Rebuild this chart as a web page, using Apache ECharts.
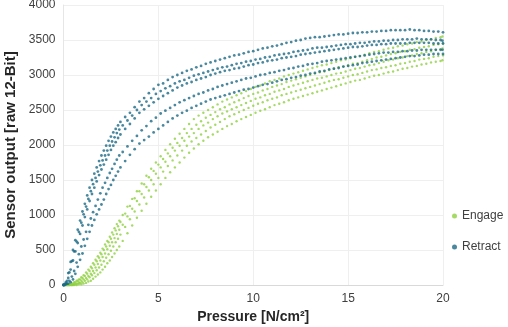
<!DOCTYPE html>
<html>
<head>
<meta charset="utf-8">
<script src="https://cdn.jsdelivr.net/npm/echarts@6/dist/echarts.min.js"></script>
<style>
  html, body { margin: 0; padding: 0; background: #fff; }
  #chart { width: 508px; height: 327px; }
</style>
</head>
<body>
<div id="chart"></div>
<script>
// pressure sampling positions (N/cm²), two offset sets
const pA = [0,0.125,0.25,0.375,0.5,0.625,0.75,0.875,1,1.125,1.25,1.375,1.5,1.625,1.75,1.875,2,2.125,2.25,2.375,2.5,2.625,2.75,2.875,
  3,3.25,3.5,3.75,4,4.25,4.5,4.75,5,5.25,5.5,5.75,6,6.25,6.5,6.75,7,7.25,7.5,7.75,8,8.25,8.5,8.75,9,9.25,9.5,9.75,
  10,10.25,10.5,10.75,11,11.25,11.5,11.75,12,12.25,12.5,12.75,13,13.25,13.5,13.75,14,14.25,14.5,14.75,15,15.25,15.5,15.75,
  16,16.25,16.5,16.75,17,17.25,17.5,17.75,18,18.25,18.5,18.75,19,19.25,19.5,19.75,20];
const pB = [0.06,0.19,0.31,0.44,0.56,0.69,0.81,0.94,1.06,1.19,1.31,1.44,1.56,1.69,1.81,1.94,2.06,2.19,2.31,2.44,2.56,2.69,2.81,2.94,
  3.12,3.37,3.62,3.87,4.12,4.37,4.62,4.87,5.12,5.37,5.62,5.87,6.12,6.37,6.62,6.87,7.12,7.37,7.62,7.87,8.12,8.37,8.62,8.87,
  9.12,9.37,9.62,9.87,10.12,10.37,10.62,10.87,11.12,11.37,11.62,11.87,12.12,12.37,12.62,12.87,13.12,13.37,13.62,13.87,
  14.12,14.37,14.62,14.87,15.12,15.37,15.62,15.87,16.12,16.37,16.62,16.87,17.12,17.37,17.62,17.87,18.12,18.37,18.62,18.87,
  19.12,19.37,19.62,19.87,19.97];

// Retract cycles (sensor output, raw 12-bit)
const retract1 = [0,40,170,330,500,640,790,920,1050,1160,1280,1390,1500,1590,1680,1770,1850,1920,1990,2060,2120,2180,2230,2280,
  2330,2400,2460,2540,2620,2670,2740,2800,2860,2880,2930,2970,3000,3030,3060,3080,3110,3130,3160,3180,3200,3220,3240,3260,3280,3290,
  3310,3330,3340,3360,3380,3390,3410,3420,3440,3460,3470,3490,3500,3520,3530,3540,3540,3550,3560,3570,3580,3580,3590,3600,
  3600,3610,3610,3620,3620,3630,3630,3640,3640,3640,3640,3650,3640,3640,3630,3630,3620,3620,3610];
const retract2 = [10,60,180,340,480,620,760,890,1010,1120,1230,1340,1440,1530,1620,1710,1780,1850,1920,1990,2050,2110,2170,2220,
  2280,2350,2420,2500,2570,2620,2670,2730,2770,2810,2840,2880,2910,2930,2960,2990,3010,3030,3050,3070,
  3090,3110,3120,3140,3160,3170,3190,3200,3220,3230,3250,3260,3280,3290,3300,3310,3330,3340,3350,3360,
  3380,3390,3390,3400,3410,3420,3430,3440,3440,3450,3460,3460,3470,3480,3480,3490,3490,3500,3500,3510,
  3510,3510,3520,3510,3510,3510,3500,3500,3490];
const retract3 = [0,20,100,220,350,480,600,730,850,970,1080,1200,1300,1390,1480,1570,1650,1720,1790,1860,1930,1990,2040,2100,
  2150,2230,2300,2380,2460,2510,2560,2610,2660,2700,2740,2780,2820,2850,2880,2900,2930,2950,2970,3000,
  3020,3040,3060,3070,3090,3100,3120,3140,3150,3170,3180,3200,3210,3220,3240,3250,3260,3270,3290,3300,
  3310,3320,3330,3340,3350,3360,3370,3380,3390,3400,3400,3410,3420,3430,3430,3440,3440,3450,3450,3450,
  3450,3460,3460,3460,3460,3460,3450,3450,3450];
const retract4 = [0,20,60,120,200,320,440,550,650,760,860,950,1040,1130,1220,1310,1390,1460,1530,1600,1660,1730,1790,1850,
  1900,1980,2060,2130,2210,2270,2340,2390,2450,2490,2530,2570,2610,2640,2670,2700,2730,2750,2780,2800,
  2830,2850,2870,2890,2910,2930,2950,2960,2980,3000,3010,3030,3040,3060,3070,3090,3100,3120,3130,3150,
  3160,3170,3190,3200,3210,3220,3230,3240,3250,3260,3270,3280,3290,3300,3310,3320,3320,3330,3330,3340,
  3340,3350,3350,3360,3360,3360,3360,3360,3360];
const retract5 = [0,10,20,40,80,160,260,360,450,560,660,760,850,930,1010,1080,1150,1220,1300,1370,1430,1500,1560,1620,
  1680,1770,1860,1940,2020,2070,2120,2180,2230,2280,2330,2380,2420,2460,2490,2530,2560,2590,2620,2650,
  2670,2690,2710,2730,2750,2770,2790,2800,2820,2840,2860,2870,2890,2910,2930,2940,2960,2970,2990,3000,
  3020,3030,3050,3060,3080,3090,3100,3120,3130,3140,3150,3170,3180,3190,3200,3210,3220,3230,3240,3250,
  3260,3270,3270,3280,3290,3290,3300,3300,3300];

// Engage cycles
const engage1 = [0,0,10,20,40,60,80,110,140,180,220,260,310,360,410,460,520,580,630,690,750,810,870,920,
  1000,1120,1230,1340,1450,1560,1660,1750,1840,1930,2010,2090,2160,2230,2300,2370,2420,2460,2500,2540,
  2580,2620,2650,2680,2710,2740,2770,2800,2830,2850,2880,2910,2930,2950,2980,3000,3020,3040,3060,3080,
  3100,3120,3140,3150,3170,3190,3210,3220,3240,3260,3270,3290,3310,3330,3340,3360,3380,3390,3410,3420,
  3440,3450,3470,3480,3500,3510,3530,3540,3550];
const engage2 = [0,0,0,10,20,40,60,80,100,130,160,200,240,290,340,390,440,500,550,610,660,720,780,840,
  900,1020,1130,1240,1340,1440,1540,1630,1720,1800,1880,1960,2030,2100,2170,2230,2290,2340,2390,2430,
  2470,2510,2540,2580,2610,2640,2670,2700,2730,2750,2780,2800,2830,2850,2870,2900,2920,2940,2960,2980,
  3000,3020,3040,3050,3070,3090,3110,3120,3140,3160,3170,3190,3210,3230,3250,3260,3280,3300,3310,3330,
  3340,3360,3370,3390,3400,3410,3430,3440,3450];
const engage3 = [0,0,0,0,10,20,40,60,80,100,130,160,200,250,300,350,400,450,510,560,610,670,730,790,
  860,980,1090,1200,1300,1400,1500,1590,1680,1760,1840,1920,1990,2060,2120,2170,2230,2280,2320,2370,
  2410,2450,2480,2510,2540,2570,2600,2630,2660,2680,2710,2730,2760,2780,2800,2830,2850,2870,2890,2910,
  2930,2950,2960,2980,3000,3020,3030,3050,3070,3090,3100,3120,3140,3150,3170,3190,3210,3220,3240,3250,
  3270,3280,3300,3310,3330,3340,3360,3370,3380];
const engage4 = [0,0,0,0,0,10,20,30,40,60,80,110,140,170,210,250,290,340,390,440,490,550,610,660,
  720,830,940,1050,1150,1250,1350,1440,1530,1620,1700,1780,1850,1920,1990,2050,2100,2150,2200,2250,
  2290,2330,2370,2410,2440,2470,2500,2530,2560,2590,2610,2640,2660,2680,2710,2730,2750,2770,2790,2810,
  2830,2850,2870,2890,2910,2930,2940,2960,2980,3000,3010,3030,3050,3070,3080,3100,3110,3130,3140,3160,
  3170,3190,3200,3220,3230,3240,3260,3270,3280];
const engage5 = [0,0,0,0,0,0,10,10,20,30,50,60,90,120,150,180,220,260,310,350,400,450,500,550,
  630,740,850,960,1060,1160,1260,1350,1440,1530,1610,1680,1750,1820,1890,1950,2010,2060,2110,2150,
  2190,2230,2270,2300,2340,2370,2400,2430,2460,2490,2510,2540,2570,2590,2610,2640,2660,2680,2700,2720,
  2740,2760,2780,2800,2820,2840,2860,2880,2900,2920,2930,2950,2970,2990,3000,3020,3040,3050,3070,3090,
  3100,3120,3130,3150,3160,3180,3190,3200,3210];

const xTicks = [0, 5, 10, 15, 20];
const yTicks = [0, 500, 1000, 1500, 2000, 2500, 3000, 3500, 4000];

function pairs(p, v) {
  let out = [];
  v.forEach((y, i) => { if (p[i] !== undefined) out.push([p[i], y]); });
  return out;
}

const engageData = [].concat(
  pairs(pB, engage1), pairs(pA, engage2), pairs(pB, engage3), pairs(pA, engage4), pairs(pB, engage5));
const retractData = [].concat(
  pairs(pA, retract1), pairs(pB, retract2), pairs(pA, retract3), pairs(pB, retract4), pairs(pA, retract5));

const font = '"Liberation Sans", "DejaVu Sans", sans-serif';
let myChart = echarts.init(document.getElementById('chart'));
let option = {
  animation: false,
  grid: { left: 63.5, right: 65, top: 5, bottom: 42, containLabel: false, outerBoundsMode: 'none' },
  legend: {
    orient: 'vertical',
    left: 447,
    top: 205,
    itemGap: 19,
    itemWidth: 5,
    itemHeight: 5,
    icon: 'circle',
    textStyle: { fontFamily: font, fontSize: 12, color: '#404040', padding: [0, 0, 0, 0] },
    data: ['Engage', 'Retract']
  },
  xAxis: {
    type: 'value',
    min: xTicks[0],
    max: xTicks[xTicks.length - 1],
    interval: 5,
    name: 'Pressure [N/cm²]',
    nameLocation: 'middle',
    nameGap: 24,
    nameTextStyle: { fontFamily: font, fontSize: 14, fontWeight: 'bold', color: '#262626' },
    axisLine: { show: true, lineStyle: { color: '#d9d9d9', width: 1 } },
    axisTick: { show: false },
    axisLabel: { fontFamily: font, fontSize: 12, color: '#404040', margin: 8 },
    splitLine: { show: true, lineStyle: { color: '#efefef', width: 1 } }
  },
  yAxis: {
    type: 'value',
    min: yTicks[0],
    max: yTicks[yTicks.length - 1],
    interval: 500,
    name: 'Sensor output [raw 12-Bit]',
    nameLocation: 'middle',
    nameGap: 42,
    nameTextStyle: { fontFamily: font, fontSize: 15, fontWeight: 'bold', color: '#262626' },
    axisLine: { show: true, lineStyle: { color: '#e6e6e6', width: 1 } },
    axisTick: { show: false },
    axisLabel: { fontFamily: font, fontSize: 12, color: '#404040', margin: 8, formatter: v => String(v) },
    splitLine: { show: true, lineStyle: { color: '#efefef', width: 1 } }
  },
  series: [{
    name: 'Engage',
    type: 'scatter',
    symbol: 'circle',
    symbolSize: 2.4,
    itemStyle: { color: '#8fd13f' },
    data: engageData
  }, {
    name: 'Retract',
    type: 'scatter',
    symbol: 'circle',
    symbolSize: 2.8,
    itemStyle: { color: '#1c6a86' },
    data: retractData
  }]
};
myChart.setOption(option);
</script>
</body>
</html>
